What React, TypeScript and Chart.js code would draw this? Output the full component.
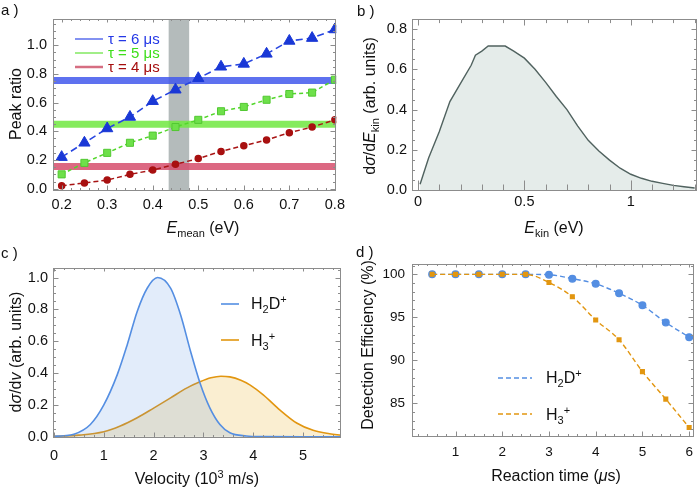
import React, { useEffect, useRef } from 'react';
import { Chart, registerables } from 'chart.js';

Chart.register(...registerables);

const FONT = '"Liberation Sans", Arial, Helvetica, sans-serif';

// ===== Panel a: peak ratio vs mean energy =====
const aEmean = [0.2, 0.25, 0.3, 0.35, 0.4, 0.45, 0.5, 0.55, 0.6, 0.65, 0.7, 0.75, 0.8];
const aTau6 = [0.22, 0.32, 0.42, 0.5, 0.61, 0.69, 0.77, 0.85, 0.87, 0.94, 1.03, 1.05, 1.11];
const aTau5 = [0.1, 0.18, 0.25, 0.32, 0.37, 0.43, 0.48, 0.54, 0.57, 0.62, 0.66, 0.67, 0.76];
const aTau4 = [0.02, 0.04, 0.06, 0.1, 0.13, 0.17, 0.21, 0.26, 0.3, 0.34, 0.39, 0.43, 0.48];
const aBands = [0.755, 0.45, 0.155];
const aWindow = [0.435, 0.48];
const aLegend = ['τ = 6 μs', 'τ = 5 μs', 'τ = 4 μs'];
const aXTicks = [0.2, 0.3, 0.4, 0.5, 0.6, 0.7, 0.8];
const aXLabels = ['0.2', '0.3', '0.4', '0.5', '0.6', '0.7', '0.8'];
const aYTicks = [0, 0.2, 0.4, 0.6, 0.8, 1.0];
const aYLabels = ['0.0', '0.2', '0.4', '0.6', '0.8', '1.0'];

// ===== Panel b: cross section vs kinetic energy =====
const bEkin = [0.01, 0.05, 0.1, 0.15, 0.2, 0.25, 0.27, 0.3, 0.33, 0.41, 0.45, 0.5, 0.55, 0.6, 0.65, 0.7, 0.75, 0.8, 0.85, 0.9, 0.95, 1.0, 1.05, 1.1, 1.15, 1.2, 1.25, 1.3];
const bCross = [0.03, 0.16, 0.29, 0.44, 0.53, 0.62, 0.67, 0.69, 0.715, 0.715, 0.69, 0.655, 0.6, 0.535, 0.465, 0.4, 0.32, 0.248, 0.195, 0.15, 0.11, 0.08, 0.06, 0.045, 0.035, 0.025, 0.018, 0.012];
const bXTicks = [0, 0.5, 1];
const bXLabels = ['0', '0.5', '1'];
const bYTicks = [0, 0.2, 0.4, 0.6, 0.8];
const bYLabels = ['0.0', '0.2', '0.4', '0.6', '0.8'];

// ===== Panel c: velocity distributions =====
const cVelH2D = [0, 0.2, 0.4, 0.73, 1.0, 1.27, 1.47, 1.67, 1.87, 2.08, 2.34, 2.54, 2.74, 2.93, 3.13, 3.33, 3.53, 3.86, 4.2, 5.0, 5.76];
const cH2D = [0.003, 0.006, 0.015, 0.077, 0.2, 0.39, 0.578, 0.787, 0.933, 1.0, 0.933, 0.766, 0.537, 0.338, 0.18, 0.077, 0.025, 0.005, 0.001, 0, 0];
const cVelH3 = [0, 0.5, 1.0, 1.33, 1.67, 2.0, 2.34, 2.67, 2.93, 3.15, 3.35, 3.53, 3.75, 3.93, 4.2, 4.53, 4.87, 5.2, 5.53, 5.76];
const cH3 = [0.003, 0.01, 0.031, 0.067, 0.119, 0.18, 0.244, 0.307, 0.345, 0.37, 0.38, 0.376, 0.355, 0.326, 0.263, 0.169, 0.086, 0.04, 0.019, 0.01];
const cXTicks = [0, 1, 2, 3, 4, 5];
const cXLabels = ['0', '1', '2', '3', '4', '5'];
const cYTicks = [0, 0.2, 0.4, 0.6, 0.8, 1.0];
const cYLabels = ['0.0', '0.2', '0.4', '0.6', '0.8', '1.0'];

// ===== Panel d: detection efficiency =====
const dTime = [0.5, 1, 1.5, 2, 2.5, 3, 3.5, 4, 4.5, 5, 5.5, 6];
const dH2D = [100, 100, 100, 100, 100, 99.95, 99.5, 98.9, 97.8, 96.4, 94.4, 92.7];
const dH3 = [100, 100, 100, 100, 100, 99.05, 97.4, 94.7, 92.4, 88.7, 85.5, 82.2];
const dXTicks = [1, 2, 3, 4, 5, 6];
const dXLabels = ['1', '2', '3', '4', '5', '6'];
const dYTicks = [85, 90, 95, 100];
const dYLabels = ['85', '90', '95', '100'];

const BLUE_C = 'rgb(84,142,226)';
const ORANGE_C = 'rgb(226,150,16)';

type Seg = { t: string; i?: boolean; sub?: boolean; sup?: boolean };

function drawRich(ctx: CanvasRenderingContext2D, segs: Seg[], x: number, y: number, size: number, color: string, rotate = false, align: 'center' | 'left' = 'center') {
  ctx.save();
  ctx.translate(x, y);
  if (rotate) ctx.rotate(-Math.PI / 2);
  const fontFor = (s: Seg) => `${s.i ? 'italic ' : ''}${s.sub || s.sup ? Math.round(size * 0.7) : size}px ${FONT}`;
  let w = 0;
  for (const s of segs) {
    ctx.font = fontFor(s);
    w += ctx.measureText(s.t).width;
  }
  let cx = align === 'center' ? -w / 2 : 0;
  ctx.fillStyle = color;
  ctx.textAlign = 'left';
  ctx.textBaseline = 'alphabetic';
  const base = size * 0.36;
  for (const s of segs) {
    ctx.font = fontFor(s);
    const dy = s.sub ? size * 0.27 : s.sup ? -size * 0.38 : 0;
    ctx.fillText(s.t, cx, base + dy);
    cx += ctx.measureText(s.t).width;
  }
  ctx.restore();
}

type Panel = {
  left: number; top: number; width: number; height: number;
  area: { left: number; right: number; top: number; bottom: number };
  xMin: number; xMax: number; yMin: number; yMax: number;
  xTicks: number[]; xLabels: string[]; yTicks: number[]; yLabels: string[];
  xMinor: number; yMinor: number; xMajorLen: number; xMinorLen: number;
  tickSize: number; xPad: number; yPad: number;
  xTitle: Seg[]; yTitle: Seg[]; xTitlePos: [number, number]; yTitlePos: [number, number];
  label: string; labelPos: [number, number];
  datasets: any[];
  before?: (chart: any) => void;
  after?: (chart: any) => void;
};

function drawFrame(chart: any, p: Panel) {
  const { ctx, chartArea: a, scales } = chart;
  const xs = scales.x;
  const ys = scales.y;
  const L = Math.round(a.left) + 0.5;
  const R = Math.round(a.right) - 0.5;
  const T = Math.round(a.top) + 0.5;
  const B = Math.round(a.bottom) - 0.5;
  ctx.save();
  ctx.strokeStyle = '#8c8c8c';
  ctx.lineWidth = 1;
  ctx.beginPath();
  const vtick = (v: number, len: number) => {
    const X = Math.round(xs.getPixelForValue(v)) + 0.5;
    if (X < L || X > R) return;
    ctx.moveTo(X, B); ctx.lineTo(X, B - len);
    ctx.moveTo(X, T); ctx.lineTo(X, T + len * 0.6);
  };
  const htick = (v: number, len: number) => {
    const Y = Math.round(ys.getPixelForValue(v)) + 0.5;
    if (Y < T || Y > B) return;
    ctx.moveTo(L, Y); ctx.lineTo(L + len, Y);
    ctx.moveTo(R, Y); ctx.lineTo(R - len, Y);
  };
  const n1 = Math.ceil(p.xMin / p.xMinor - 1e-9);
  const n2 = Math.floor(p.xMax / p.xMinor + 1e-9);
  for (let k = n1; k <= n2; k++) vtick(k * p.xMinor, p.xMinorLen);
  for (const v of p.xTicks) vtick(v, p.xMajorLen);
  const m1 = Math.ceil(p.yMin / p.yMinor - 1e-9);
  const m2 = Math.floor(p.yMax / p.yMinor + 1e-9);
  for (let k = m1; k <= m2; k++) htick(k * p.yMinor, 2.5);
  for (const v of p.yTicks) htick(v, 5);
  ctx.stroke();
  ctx.strokeRect(L, T, R - L, B - T);
  ctx.restore();
}

function makeConfig(p: Panel) {
  const deco = {
    id: 'deco',
    beforeDatasetsDraw(chart: any) {
      if (p.before) p.before(chart);
    },
    afterDatasetsDraw(chart: any) {
      drawFrame(chart, p);
    },
    afterDraw(chart: any) {
      const ctx = chart.ctx;
      drawRich(ctx, p.xTitle, p.xTitlePos[0], p.xTitlePos[1], 16, '#111');
      drawRich(ctx, p.yTitle, p.yTitlePos[0], p.yTitlePos[1], 16, '#111', true);
      ctx.save();
      ctx.font = `15px ${FONT}`;
      ctx.fillStyle = '#111';
      ctx.textBaseline = 'alphabetic';
      ctx.fillText(p.label, p.labelPos[0], p.labelPos[1]);
      ctx.restore();
      if (p.after) p.after(chart);
    },
  };
  return {
    type: 'line' as const,
    data: { datasets: p.datasets },
    options: {
      responsive: false,
      animation: false as const,
      events: [] as any[],
      layout: { padding: { left: 0, top: p.area.top, right: p.width - p.area.right, bottom: 0 } },
      plugins: { legend: { display: false }, tooltip: { enabled: false } },
      scales: {
        x: {
          type: 'linear' as const,
          min: p.xMin,
          max: p.xMax,
          grid: { display: false, drawTicks: false },
          border: { display: false },
          afterBuildTicks: (s: any) => { s.ticks = p.xTicks.map((v) => ({ value: v })); },
          afterFit: (s: any) => { s.height = p.height - p.area.bottom; },
          ticks: {
            autoSkip: false, maxRotation: 0, padding: p.xPad, color: '#111',
            font: { family: FONT, size: p.tickSize },
            callback: (_v: any, i: number) => p.xLabels[i],
          },
        },
        y: {
          type: 'linear' as const,
          min: p.yMin,
          max: p.yMax,
          grid: { display: false, drawTicks: false },
          border: { display: false },
          afterBuildTicks: (s: any) => { s.ticks = p.yTicks.map((v) => ({ value: v })); },
          afterFit: (s: any) => { s.width = p.area.left; },
          ticks: {
            autoSkip: false, padding: p.yPad, color: '#111',
            font: { family: FONT, size: p.tickSize },
            callback: (_v: any, i: number) => p.yLabels[i],
          },
        },
      },
    },
    plugins: [deco],
  };
}

const pts = (xs: number[], ys: number[]) => xs.map((x, i) => ({ x, y: ys[i] }));

const A_XMIN = 0.181, A_XMAX = 0.803;
const bandColors = ['rgba(66,88,236,0.85)', 'rgba(112,232,64,0.85)', 'rgba(214,78,108,0.85)'];

const panelA: Panel = {
  left: 0, top: 0, width: 350, height: 245,
  area: { left: 53, right: 340, top: 19, bottom: 191 },
  xMin: A_XMIN, xMax: A_XMAX, yMin: -0.016, yMax: 1.183,
  xTicks: aXTicks, xLabels: aXLabels, yTicks: aYTicks, yLabels: aYLabels,
  xMinor: 0.02, yMinor: 0.05, xMajorLen: 5, xMinorLen: 2.5,
  tickSize: 14.5, xPad: 5, yPad: 6,
  xTitle: [{ t: 'E', i: true }, { t: 'mean', sub: true }, { t: ' (eV)' }],
  yTitle: [{ t: 'Peak ratio' }],
  xTitlePos: [203, 227], yTitlePos: [15, 104],
  label: 'a )', labelPos: [1, 15],
  datasets: [
    { data: pts(aEmean, aTau6), borderColor: '#2846e0', borderWidth: 1.6, borderDash: [7, 4], pointStyle: 'triangle', pointRadius: 6.5, pointBackgroundColor: '#1a38d6', pointBorderColor: '#1a38d6', pointBorderWidth: 1, order: 1 },
    { data: pts(aEmean, aTau5), borderColor: '#52d62a', borderWidth: 1.5, borderDash: [4, 3], pointStyle: 'rect', pointRadius: 5, pointBackgroundColor: '#6ee04a', pointBorderColor: '#52c832', pointBorderWidth: 1, order: 2 },
    { data: pts(aEmean, aTau4), borderColor: '#a81414', borderWidth: 1.5, borderDash: [5, 3], pointStyle: 'circle', pointRadius: 3, pointBackgroundColor: '#a81010', pointBorderColor: '#a81010', order: 3 },
    ...aBands.map((v, i) => ({ data: [{ x: A_XMIN, y: v }, { x: A_XMAX, y: v }], borderColor: bandColors[i], borderWidth: 7, pointRadius: 0, order: 10 + i })),
  ],
  before: (chart: any) => {
    const { ctx, chartArea: a, scales } = chart;
    const x1 = scales.x.getPixelForValue(aWindow[0]);
    const x2 = scales.x.getPixelForValue(aWindow[1]);
    ctx.save();
    ctx.fillStyle = 'rgba(125,138,138,0.58)';
    ctx.fillRect(x1, a.top, x2 - x1, a.bottom - a.top);
    ctx.restore();
  },
  after: (chart: any) => {
    const ctx = chart.ctx;
    const lineCols = ['rgb(90,110,236)', 'rgb(130,232,96)', 'rgb(214,110,130)'];
    const txtCols = ['#2438e6', '#3ede1a', '#a50e0e'];
    const ys = [39, 53, 67];
    ctx.save();
    ys.forEach((y, i) => {
      ctx.strokeStyle = lineCols[i];
      ctx.lineWidth = i === 2 ? 2.5 : 1.5;
      ctx.beginPath(); ctx.moveTo(75, y); ctx.lineTo(103, y); ctx.stroke();
      ctx.fillStyle = txtCols[i];
      ctx.font = `15px ${FONT}`;
      ctx.textBaseline = 'middle';
      ctx.fillText(aLegend[i], 108, y + 1);
    });
    ctx.restore();
  },
};

const panelB: Panel = {
  left: 350, top: 0, width: 350, height: 245,
  area: { left: 62, right: 347, top: 19, bottom: 191 },
  xMin: -0.028, xMax: 1.311, yMin: -0.003, yMax: 0.849,
  xTicks: bXTicks, xLabels: bXLabels, yTicks: bYTicks, yLabels: bYLabels,
  xMinor: 0.1, yMinor: 0.05, xMajorLen: 10, xMinorLen: 6,
  tickSize: 14.5, xPad: 2, yPad: 5,
  xTitle: [{ t: 'E', i: true }, { t: 'kin', sub: true }, { t: ' (eV)' }],
  yTitle: [{ t: 'd' }, { t: 'σ', i: true }, { t: '/d' }, { t: 'E', i: true }, { t: 'kin', sub: true }, { t: ' (arb. units)' }],
  xTitlePos: [204, 227], yTitlePos: [19, 106],
  label: 'b )', labelPos: [7, 16],
  datasets: [
    { data: pts(bEkin, bCross), borderColor: '#50625f', borderWidth: 1.4, backgroundColor: '#e5ecea', fill: 'origin', pointRadius: 0 },
  ],
};

const panelC: Panel = {
  left: 0, top: 245, width: 350, height: 246,
  area: { left: 53, right: 341, top: 23, bottom: 193 },
  xMin: -0.02, xMax: 5.76, yMin: -0.008, yMax: 1.06,
  xTicks: cXTicks, xLabels: cXLabels, yTicks: cYTicks, yLabels: cYLabels,
  xMinor: 0.2, yMinor: 0.05, xMajorLen: 5, xMinorLen: 2.5,
  tickSize: 14.5, xPad: 9, yPad: 5,
  xTitle: [{ t: 'Velocity (10' }, { t: '3', sup: true }, { t: ' m/s)' }],
  yTitle: [{ t: 'd' }, { t: 'σ', i: true }, { t: '/d' }, { t: 'v', i: true }, { t: ' (arb. units)' }],
  xTitlePos: [197, 233], yTitlePos: [15, 107],
  label: 'c )', labelPos: [1, 13],
  datasets: [
    { data: pts(cVelH2D, cH2D), borderColor: BLUE_C, borderWidth: 1.6, backgroundColor: 'rgba(84,142,226,0.17)', fill: 'origin', pointRadius: 0, cubicInterpolationMode: 'monotone' },
    { data: pts(cVelH3, cH3), borderColor: ORANGE_C, borderWidth: 1.6, backgroundColor: 'rgba(232,168,24,0.2)', fill: 'origin', pointRadius: 0, cubicInterpolationMode: 'monotone' },
  ],
  after: (chart: any) => {
    const ctx = chart.ctx;
    ctx.save();
    ctx.lineWidth = 1.6;
    ctx.strokeStyle = BLUE_C;
    ctx.beginPath(); ctx.moveTo(221, 59); ctx.lineTo(239, 59); ctx.stroke();
    ctx.strokeStyle = ORANGE_C;
    ctx.beginPath(); ctx.moveTo(221, 95); ctx.lineTo(239, 95); ctx.stroke();
    ctx.restore();
    drawRich(ctx, [{ t: 'H' }, { t: '2', sub: true }, { t: 'D' }, { t: '+', sup: true }], 251, 58, 16, '#111', false, 'left');
    drawRich(ctx, [{ t: 'H' }, { t: '3', sub: true }, { t: '+', sup: true }], 251, 95, 16, '#111', false, 'left');
  },
};

const panelD: Panel = {
  left: 350, top: 245, width: 350, height: 246,
  area: { left: 62, right: 347, top: 19, bottom: 192 },
  xMin: 0.069, xMax: 6.098, yMin: 81.1, yMax: 101.2,
  xTicks: dXTicks, xLabels: dXLabels, yTicks: dYTicks, yLabels: dYLabels,
  xMinor: 0.2, yMinor: 1, xMajorLen: 5, xMinorLen: 2.5,
  tickSize: 13.5, xPad: 7, yPad: 7,
  xTitle: [{ t: 'Reaction time (' }, { t: 'μ', i: true }, { t: 's)' }],
  yTitle: [{ t: 'Detection Efficiency (%)' }],
  xTitlePos: [206, 230], yTitlePos: [17, 100],
  label: 'd )', labelPos: [6, 12],
  datasets: [
    { data: pts(dTime, dH3), borderColor: ORANGE_C, borderWidth: 1.4, borderDash: [5, 3], pointStyle: 'rect', pointRadius: 2.6, pointBackgroundColor: ORANGE_C, pointBorderColor: ORANGE_C, cubicInterpolationMode: 'monotone', order: 0 },
    { data: pts(dTime, dH2D), borderColor: BLUE_C, borderWidth: 1.4, borderDash: [5, 3], pointStyle: 'circle', pointRadius: 3.3, pointBackgroundColor: BLUE_C, pointBorderColor: BLUE_C, cubicInterpolationMode: 'monotone', order: 1 },
  ],
  after: (chart: any) => {
    const ctx = chart.ctx;
    ctx.save();
    ctx.lineWidth = 1.4;
    ctx.setLineDash([5, 3]);
    ctx.strokeStyle = BLUE_C;
    ctx.beginPath(); ctx.moveTo(148, 133); ctx.lineTo(182, 133); ctx.stroke();
    ctx.strokeStyle = ORANGE_C;
    ctx.beginPath(); ctx.moveTo(148, 169); ctx.lineTo(182, 169); ctx.stroke();
    ctx.restore();
    drawRich(ctx, [{ t: 'H' }, { t: '2', sub: true }, { t: 'D' }, { t: '+', sup: true }], 196, 132, 16, '#111', false, 'left');
    drawRich(ctx, [{ t: 'H' }, { t: '3', sub: true }, { t: '+', sup: true }], 196, 169, 16, '#111', false, 'left');
  },
};

const PANELS = [panelA, panelB, panelC, panelD];

function ChartPanel({ p }: { p: Panel }) {
  const ref = useRef<HTMLCanvasElement>(null);
  useEffect(() => {
    const chart = new Chart(ref.current as HTMLCanvasElement, makeConfig(p) as any);
    return () => chart.destroy();
  }, [p]);
  return (
    <div style={{ position: 'absolute', left: p.left, top: p.top, width: p.width, height: p.height }}>
      <canvas ref={ref} width={p.width} height={p.height} style={{ width: p.width, height: p.height, display: 'block' }} />
    </div>
  );
}

export default function App() {
  return (
    <div style={{ position: 'absolute', left: 0, top: 0, width: 700, height: 491, background: '#fff', overflow: 'hidden' }}>
      {PANELS.map((p, i) => (
        <ChartPanel key={i} p={p} />
      ))}
    </div>
  );
}
